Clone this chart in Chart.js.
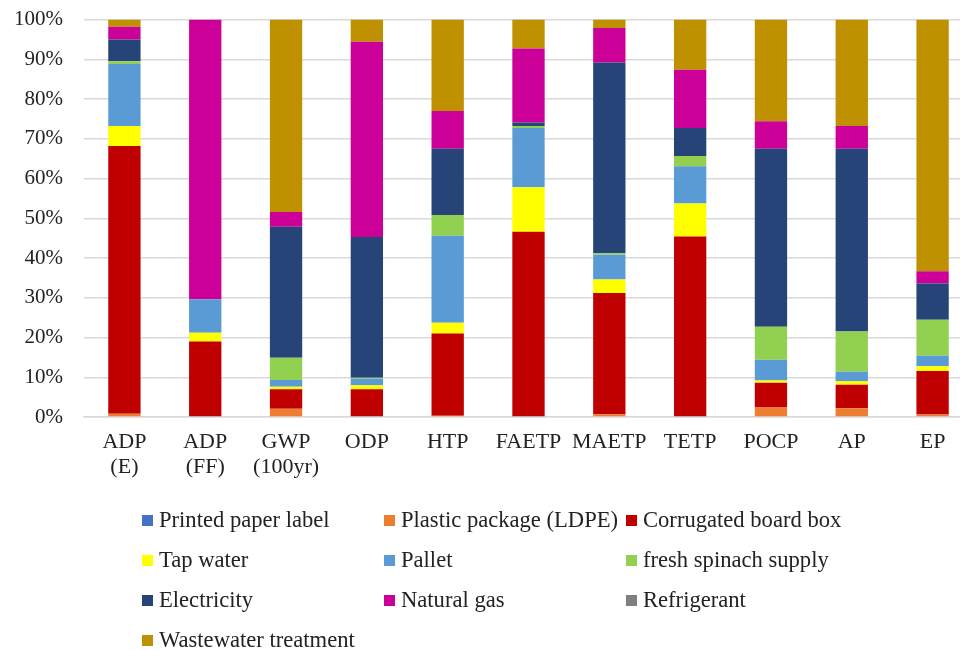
<!DOCTYPE html>
<html>
<head>
<meta charset="utf-8">
<script src="https://cdn.jsdelivr.net/npm/chart.js@4.4.1/dist/chart.umd.min.js"></script>
<style>
  html, body { margin: 0; padding: 0; background: #fff; }
  #wrap { position: relative; width: 960px; height: 650px; overflow: hidden; }
  #chart { position: absolute; left: 0; top: -14px; }
  #legend { position: absolute; left: 0; top: 0; width: 960px; height: 650px; pointer-events: none;
            font-family: "Liberation Serif", "Times New Roman", serif; font-size: 22.6px; color: #222; }
  .item { position: absolute; display: flex; align-items: center; white-space: nowrap; line-height: 1; }
  .swatch { width: 11px; height: 11px; margin-right: 6px; flex: none; }
</style>
</head>
<body>
<div id="wrap">
  <canvas id="chart" width="975" height="514"></canvas>
  <div id="legend"></div>
</div>
<script>
// Impact categories on the x axis (multi-line labels)
const categories = [
  ['ADP', '(E)'], ['ADP', '(FF)'], ['GWP', '(100yr)'], ['ODP'], ['HTP'],
  ['FAETP'], ['MAETP'], ['TETP'], ['POCP'], ['AP'], ['EP']
];

// Contribution of each process to each impact category (%)
const printedPaperLabel   = [0, 0, 0, 0, 0, 0, 0, 0, 0, 0, 0];
const plasticPackage      = [0.8, 0.2, 2.1, 0.2, 0.3, 0.2, 0.7, 0.2, 2.4, 2.2, 0.6];
const corrugatedBoardBox  = [67.4, 18.8, 4.9, 6.8, 20.7, 46.4, 30.5, 45.2, 6.2, 5.9, 11.0];
const tapWater            = [5.0, 2.2, 0.6, 1.0, 2.7, 11.2, 3.4, 8.3, 0.6, 0.9, 1.2];
const pallet              = [15.6, 8.4, 1.7, 1.6, 21.9, 14.9, 6.2, 9.4, 5.2, 2.4, 2.6];
const freshSpinachSupply  = [0.7, 0, 5.6, 0.3, 5.2, 0.5, 0.4, 2.6, 8.3, 10.1, 9.1];
const electricity         = [5.5, 0, 33.0, 35.4, 16.7, 0.9, 48.0, 7.0, 44.8, 46.0, 9.1];
const naturalGas          = [3.2, 70.4, 3.7, 49.1, 9.5, 18.6, 8.7, 14.7, 6.9, 5.7, 3.1];
const refrigerant         = [0, 0, 0, 0, 0, 0, 0, 0, 0, 0, 0];
const wastewaterTreatment = [1.8, 0, 48.4, 5.6, 23.0, 7.3, 2.1, 12.6, 25.6, 26.8, 63.3];

// Y axis tick values
const yTicks = [0, 10, 20, 30, 40, 50, 60, 70, 80, 90, 100];

const series = [
  { label: 'Printed paper label',       data: printedPaperLabel,   color: '#4472C4' },
  { label: 'Plastic package (LDPE)',    data: plasticPackage,      color: '#ED7D31' },
  { label: 'Corrugated board box',      data: corrugatedBoardBox,  color: '#C00000' },
  { label: 'Tap water',                 data: tapWater,            color: '#FFFF00' },
  { label: 'Pallet',                    data: pallet,              color: '#5B9BD5' },
  { label: 'fresh spinach supply',      data: freshSpinachSupply,  color: '#92D050' },
  { label: 'Electricity',               data: electricity,         color: '#264478' },
  { label: 'Natural gas',               data: naturalGas,          color: '#CC0099' },
  { label: 'Refrigerant',               data: refrigerant,         color: '#7F7F7F' },
  { label: 'Wastewater treatment',      data: wastewaterTreatment, color: '#BF9000' }
];

const FONT = '"Liberation Serif", "Times New Roman", serif';
const TEXT = '#222';
const GRID = '#d9d9d9';

new Chart(document.getElementById('chart'), {
  type: 'bar',
  data: {
    labels: categories,
    datasets: series.map(s => ({
      label: s.label,
      data: s.data,
      backgroundColor: s.color,
      borderWidth: 0,
      categoryPercentage: 0.8,
      barPercentage: 0.5
    }))
  },
  options: {
    responsive: false,
    animation: false,
    layout: { padding: { top: 8, right: 2, bottom: 0, left: 0 } },
    plugins: { legend: { display: false }, tooltip: { enabled: false } },
    scales: {
      x: {
        stacked: true,
        grid: { display: false },
        border: { display: true, color: GRID, width: 1.5 },
        ticks: { color: TEXT, font: { family: FONT, size: 22, lineHeight: 1.14 }, padding: 5, maxRotation: 0, autoSkip: false },
        afterFit: s => { s.height = 83; }
      },
      y: {
        stacked: true,
        min: 0,
        max: 100,
        afterBuildTicks: s => { s.ticks = yTicks.map(v => ({ value: v })); },
        grid: { color: GRID, lineWidth: 1.5, drawTicks: false },
        border: { display: false },
        ticks: { color: TEXT, font: { family: FONT, size: 21 }, padding: 21, callback: v => v + '%' },
        afterFit: s => { s.width = 84; }
      }
    }
  }
});

// Legend laid out in three columns below the plot
const legend = document.getElementById('legend');
const colX = [142, 384, 626];
const rowY = [520, 560, 600, 640];
series.forEach((s, i) => {
  const el = document.createElement('div');
  el.className = 'item';
  el.style.left = colX[i % 3] + 'px';
  el.style.top = (rowY[Math.floor(i / 3)] - 11) + 'px';
  el.style.height = '22px';
  const sw = document.createElement('span');
  sw.className = 'swatch';
  sw.style.background = s.color;
  const tx = document.createElement('span');
  tx.textContent = s.label;
  el.appendChild(sw);
  el.appendChild(tx);
  legend.appendChild(el);
});
</script>
</body>
</html>
